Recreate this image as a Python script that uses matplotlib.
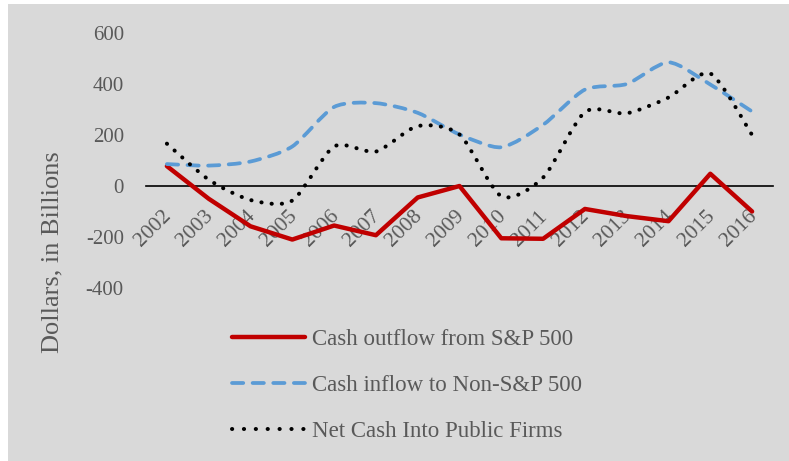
#!/usr/bin/env python3
"""
Cash flows into / out of public firms, 2002-2016 (Excel-style smoothed lines).
"""

import matplotlib
matplotlib.use("Agg")
import matplotlib.pyplot as plt
import matplotlib.transforms as mtransforms
from matplotlib.lines import Line2D
from matplotlib.patches import PathPatch, Rectangle
from matplotlib.path import Path

years = list(range(2002, 2017))
outflow_sp500 = [78, -50, -158, -210, -155, -193, -45, 0, -205, -207, -90, -118, -138, 48, -100]
inflow_non_sp500 = [86, 80, 96, 155, 310, 325, 287, 202, 152, 240, 378, 400, 485, 398, 292]
net_cash = [166, 25, -55, -57, 155, 135, 235, 202, -40, 33, 290, 285, 347, 441, 200]

y_ticks = [-400, -200, 0, 200, 400, 600]

TEXT = "#595959"
RED = "#C00000"
BLUE = "#5B9BD5"
BG = "#D9D9D9"

plt.rcParams["font.family"] = ["Liberation Serif", "DejaVu Serif"]


def smooth_path(xs, ys, k=1 / 8):
    # Excel-style smoothing: cubic bezier segments, control points from neighbours
    pts = list(zip(xs, ys))
    n = len(pts)
    verts = [pts[0]]
    codes = [Path.MOVETO]
    for i in range(n - 1):
        p0 = pts[i - 1] if i > 0 else pts[i]
        p1 = pts[i]
        p2 = pts[i + 1]
        p3 = pts[i + 2] if i + 2 < n else pts[i + 1]
        c1 = (p1[0] + (p2[0] - p0[0]) * k, p1[1] + (p2[1] - p0[1]) * k)
        c2 = (p2[0] - (p3[0] - p1[0]) * k, p2[1] - (p3[1] - p1[1]) * k)
        verts += [c1, c2, p2]
        codes += [Path.CURVE4] * 3
    return Path(verts, codes)


fig = plt.figure(figsize=(7.89, 4.61), dpi=100, facecolor="white")
fig.patches.append(Rectangle((8 / 789, 0), 1, (461 - 4) / 461, transform=fig.transFigure,
                             facecolor=BG, edgecolor="none", zorder=-10))

ax = fig.add_axes([146 / 789, 1 - 288 / 461, (773 - 146) / 789, (288 - 33) / 461])
ax.patch.set_alpha(0)

# spine position first: moving it resets the ticks
for side in ["left", "right", "top"]:
    ax.spines[side].set_visible(False)
ax.spines["bottom"].set_position(("data", 0))
ax.spines["bottom"].set_color("black")
ax.spines["bottom"].set_linewidth(1.2)
ax.spines["bottom"].set_zorder(1)

ax.set_xlim(years[0] - 0.5, years[-1] + 0.5)
ax.set_ylim(-400, 600)
ax.set_yticks(y_ticks)
ax.set_yticklabels([str(v) for v in y_ticks])
ax.tick_params(axis="y", length=0, pad=16, labelsize=15, labelcolor=TEXT)

ax.set_xticks(years)
ax.set_xticklabels([str(y) for y in years], rotation=45, ha="right", va="top",
                   rotation_mode="anchor")
ax.tick_params(axis="x", length=0, pad=15, labelsize=15.5, labelcolor=TEXT)
shift = mtransforms.ScaledTranslation(-5 / 100, 0, fig.dpi_scale_trans)
for lbl in ax.get_xticklabels():
    lbl.set_transform(lbl.get_transform() + shift)

ax.plot(years, outflow_sp500, color=RED, lw=3.2, solid_joinstyle="round",
        solid_capstyle="round", zorder=3)
blue = PathPatch(smooth_path(years, inflow_non_sp500), fill=False, edgecolor=BLUE, lw=2.7,
                 linestyle=(0, (3.0, 2.5)), capstyle="round", zorder=3)
dots = PathPatch(smooth_path(years, net_cash), fill=False, edgecolor="black", lw=2.9,
                 linestyle=(0, (0.05, 2.5)), capstyle="round", zorder=4)
ax.add_patch(blue)
ax.add_patch(dots)

handles = [
    Line2D([], [], color=RED, lw=3.2, solid_capstyle="round"),
    Line2D([], [], color=BLUE, lw=2.7, linestyle=(0, (3.0, 2.5)), dash_capstyle="round"),
    Line2D([], [], color="black", lw=2.9, linestyle=(0, (0.05, 2.9)), dash_capstyle="round"),
]
labels = ["Cash outflow from S&P 500", "Cash inflow to Non-S&P 500", "Net Cash Into Public Firms"]
leg = fig.legend(handles, labels, loc="upper left", bbox_to_anchor=(232 / 789, 1 - 329 / 461),
                 frameon=False, fontsize=16.5, handlelength=3.2, handletextpad=0.3,
                 labelspacing=1.08, borderpad=0, borderaxespad=0)
for t in leg.get_texts():
    t.set_color(TEXT)

fig.text(52 / 789, 1 - 252 / 461, "Dollars, in Billions", rotation=90, ha="center", va="center",
         fontsize=19, color=TEXT)

fig.savefig("out.png", dpi=100, facecolor=fig.get_facecolor())
